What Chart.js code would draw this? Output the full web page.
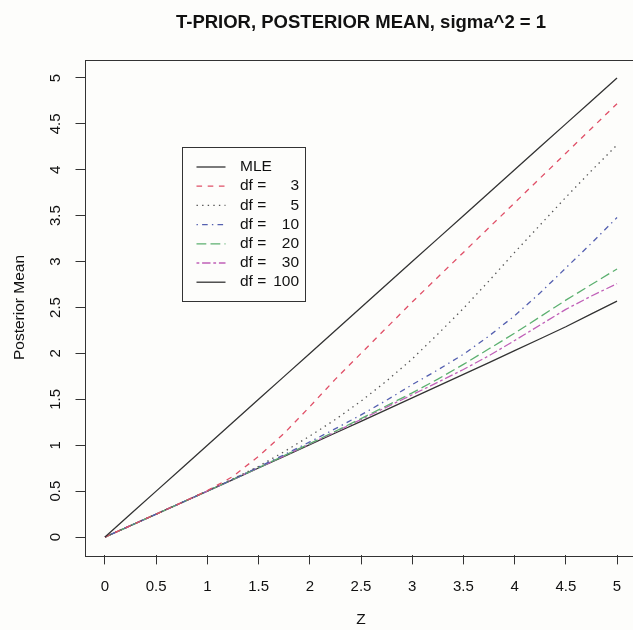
<!DOCTYPE html>
<html>
<head>
<meta charset="utf-8">
<script src="https://cdn.jsdelivr.net/npm/chart.js@4.4.0/dist/chart.umd.min.js"></script>
<style>
  html, body { margin: 0; padding: 0; background: #fdfdfb; overflow: hidden; }
  #wrap { width: 640px; height: 630px; }
</style>
</head>
<body>
<div id="wrap"><canvas id="chart" width="640" height="630"></canvas></div>
<script>
// values
const zValues = [0, 0.25, 0.5, 0.75, 1, 1.25, 1.5, 1.75, 2, 2.25, 2.5, 2.75, 3, 3.25, 3.5, 3.75, 4, 4.25, 4.5, 4.75, 5];
const mle   = [0, 0.25, 0.5, 0.75, 1, 1.25, 1.5, 1.75, 2, 2.25, 2.5, 2.75, 3, 3.25, 3.5, 3.75, 4, 4.25, 4.5, 4.75, 5];
const df3   = [0, 0.125, 0.25, 0.376, 0.505, 0.66, 0.88, 1.13, 1.42, 1.72, 2.0, 2.28, 2.56, 2.83, 3.10, 3.37, 3.64, 3.91, 4.18, 4.45, 4.72];
const df5   = [0, 0.125, 0.25, 0.376, 0.502, 0.635, 0.77, 0.93, 1.10, 1.28, 1.48, 1.70, 1.94, 2.21, 2.49, 2.79, 3.10, 3.40, 3.70, 3.99, 4.27];
const df10  = [0, 0.125, 0.25, 0.376, 0.502, 0.63, 0.762, 0.897, 1.036, 1.18, 1.33, 1.49, 1.66, 1.82, 1.99, 2.19, 2.41, 2.66, 2.93, 3.20, 3.48];
const df20  = [0, 0.125, 0.25, 0.375, 0.501, 0.628, 0.756, 0.886, 1.018, 1.152, 1.29, 1.43, 1.57, 1.72, 1.88, 2.05, 2.22, 2.40, 2.58, 2.75, 2.92];
const df30  = [0, 0.125, 0.25, 0.375, 0.5, 0.627, 0.755, 0.884, 1.014, 1.146, 1.28, 1.415, 1.55, 1.685, 1.825, 1.975, 2.14, 2.31, 2.48, 2.625, 2.76];
const df100 = [0, 0.125, 0.25, 0.375, 0.5, 0.626, 0.752, 0.879, 1.006, 1.133, 1.26, 1.388, 1.516, 1.644, 1.772, 1.90, 2.03, 2.16, 2.29, 2.43, 2.57];

const xTicks = [0, 0.5, 1, 1.5, 2, 2.5, 3, 3.5, 4, 4.5, 5];
const yTicks = [0, 0.5, 1, 1.5, 2, 2.5, 3, 3.5, 4, 4.5, 5];

const legendLabels = ['MLE', 'df =', 'df =', 'df =', 'df =', 'df =', 'df ='];
const legendNums = ['', '3', '5', '10', '20', '30', '100'];

const FONT = '"Liberation Sans", Arial, sans-serif';
const INK = '#333';

function pts(ys) {
    return zValues.map((z, i) => ({ x: z, y: ys[i] }));
}

function line(label, ys, color, dash) {
    return {
        label: label,
        data: pts(ys),
        borderColor: color,
        borderWidth: 1.3,
        borderDash: dash,
        pointRadius: 0,
        tension: 0,
        fill: false
    };
}

// R line types scaled to this picture
const datasets = [
    line('MLE', mle, INK, []),
    line('df = 3', df3, '#e05068', [5.6, 5.6]),
    line('df = 5', df5, '#555555', [1.4, 4.2]),
    line('df = 10', df10, '#5560b0', [1.4, 4.2, 5.6, 4.2]),
    line('df = 20', df20, '#5cb070', [9.8, 4.2]),
    line('df = 30', df30, '#c060b8', [2.8, 2.8, 8.4, 2.8]),
    line('df = 100', df100, INK, [])
];

const boxAndText = {
    id: 'boxAndText',
    afterDraw(chart) {
        const c = chart.ctx;
        const a = chart.chartArea;
        c.save();
        // plot box
        c.strokeStyle = INK;
        c.lineWidth = 1;
        c.setLineDash([]);
        c.strokeRect(Math.round(a.left) + 0.5, Math.round(a.top) + 0.5,
            Math.round(a.right - a.left), Math.round(a.bottom - a.top));

        // main title
        c.fillStyle = '#111';
        c.font = 'bold 18.5px ' + FONT;
        c.textAlign = 'center';
        c.textBaseline = 'middle';
        c.fillText('T-PRIOR, POSTERIOR MEAN, sigma^2 = 1', (a.left + a.right) / 2, 23);

        // legend
        const bx = 182.5, by = 147.5, bw = 123, bh = 154;
        c.fillStyle = '#fdfdfb';
        c.fillRect(bx, by, bw, bh);
        c.strokeStyle = INK;
        c.strokeRect(bx, by, bw, bh);
        c.font = '15.5px ' + FONT;
        c.textBaseline = 'middle';
        chart.data.datasets.forEach((ds, i) => {
            const y = 167 + i * 19.2;
            c.strokeStyle = ds.borderColor;
            c.lineWidth = ds.borderWidth;
            c.setLineDash(ds.borderDash);
            c.beginPath();
            c.moveTo(196.5, y);
            c.lineTo(225.5, y);
            c.stroke();
            c.setLineDash([]);
            c.fillStyle = '#111';
            c.textAlign = 'left';
            c.fillText(legendLabels[i], 240, y);
            c.textAlign = 'right';
            c.fillText(legendNums[i], 299, y);
        });
        c.restore();
    }
};

const ctx = document.getElementById('chart').getContext('2d');
new Chart(ctx, {
    type: 'line',
    data: { datasets: datasets },
    options: {
        responsive: false,
        animation: false,
        layout: { padding: { top: 59.6, right: 2.5, left: 0, bottom: 0 } },
        plugins: { legend: { display: false }, tooltip: { enabled: false }, title: { display: false } },
        scales: {
            x: {
                type: 'linear',
                min: -0.2,
                max: 5.2,
                afterBuildTicks: s => { s.ticks = xTicks.map(v => ({ value: v })); },
                afterFit: s => { s.height = 74.6; },
                ticks: {
                    autoSkip: false,
                    maxRotation: 0,
                    padding: 13,
                    color: '#111',
                    font: { family: FONT, size: 15 },
                    callback: v => String(v)
                },
                grid: { drawOnChartArea: false, drawTicks: true, tickLength: 9, tickColor: INK, tickWidth: 1 },
                border: { display: false },
                title: { display: true, text: 'Z', color: '#111', font: { family: FONT, size: 15.5 }, padding: { top: 0, bottom: 1 } }
            },
            y: {
                type: 'linear',
                min: -0.2,
                max: 5.2,
                afterBuildTicks: s => { s.ticks = yTicks.map(v => ({ value: v })); },
                afterFit: s => { s.width = 84.5; },
                ticks: {
                    autoSkip: false,
                    minRotation: 90,
                    maxRotation: 90,
                    crossAlign: 'center',
                    padding: 9,
                    color: '#111',
                    font: { family: FONT, size: 15 },
                    callback: v => String(v)
                },
                grid: { drawOnChartArea: false, drawTicks: true, tickLength: 9, tickColor: INK, tickWidth: 1 },
                border: { display: false },
                title: { display: true, text: 'Posterior Mean', color: '#111', font: { family: FONT, size: 15.5 }, padding: { top: 10, bottom: 0 } }
            }
        }
    },
    plugins: [boxAndText]
});
</script>
</body>
</html>
